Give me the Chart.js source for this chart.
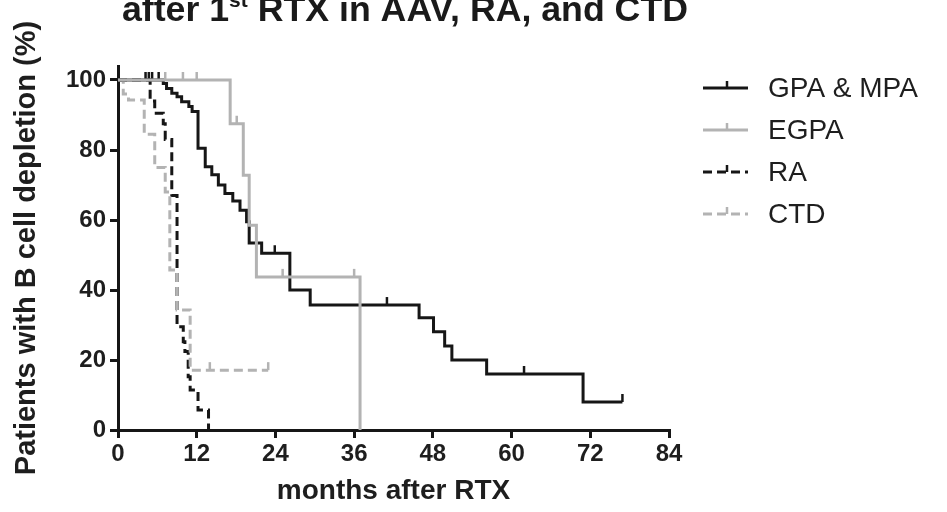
<!DOCTYPE html>
<html>
<head>
<meta charset="utf-8">
<title>B cell depletion after 1st RTX</title>
<script src="https://cdn.jsdelivr.net/npm/chart.js@4.4.1/dist/chart.umd.min.js"></script>
<style>
  html, body { margin: 0; padding: 0; background: #fff; }
  #wrap { width: 947px; height: 512px; }
</style>
</head>
<body>
<div id="wrap"><canvas id="kmChart" width="947" height="512"></canvas></div>
<script>
// Kaplan-Meier steps: month of each drop and % still depleted after it
const gpaTimes = [0, 6.9, 7.4, 8.2, 9.0, 9.7, 10.8, 11.3, 12.2, 13.3, 14.3, 15.3, 16.3, 17.5, 18.6, 19.6, 20.0, 21.9, 26.2, 29.3, 45.9, 48.1, 49.8, 50.9, 56.2, 70.9, 76.9];
const gpaSurv  = [100, 99, 97.6, 96.2, 95.2, 93.8, 92.4, 91, 80.5, 75.2, 72.9, 70, 67.6, 65.4, 62.8, 59.5, 53.4, 50.5, 40, 35.7, 32.1, 28.1, 24, 20, 16, 8, 8];
const gpaCensor = [4.2, 5.2, 6.2, 23.9, 41.0, 61.9, 76.9];

const egpaTimes = [0, 17.1, 19.1, 20.0, 21.1, 36.9];
const egpaSurv  = [100, 87.5, 72.8, 58.5, 43.75, 0];
const egpaCensor = [7.2, 9.9, 12.0, 18.1, 25.1, 36.0];

const raTimes = [0, 4.9, 5.6, 6.9, 7.2, 8.2, 9.0, 9.95, 10.2, 10.7, 11.0, 12.2, 13.8];
const raSurv  = [100, 94, 90.5, 87.5, 83, 67, 29.5, 25.2, 22.4, 15.2, 11.4, 5.7, 0];
const raCensor = [4.7];

const ctdTimes = [0, 0.8, 1.6, 4.0, 5.6, 7.2, 7.9, 9.0, 11.0, 22.9];
const ctdSurv  = [100, 96, 94.3, 84.5, 75, 68, 45.7, 34.3, 17.1, 17.1];
const ctdCensor = [14.0, 22.9];

const groupNames = ['GPA & MPA', 'EGPA', 'RA', 'CTD'];
const xTicks = [0, 12, 24, 36, 48, 60, 72, 84];
const yTicks = [0, 20, 40, 60, 80, 100];

const BLACK = '#161616';
const GREY = '#b3b3b3';
const DASH = [9, 5];
const FONT = "'Liberation Sans', Arial, Helvetica, sans-serif";

function toPoints(times, surv) {
  return times.map((t, i) => ({ x: t, y: surv[i] }));
}

function survAt(times, surv, t) {
  let v = surv[0];
  for (let i = 0; i < times.length; i++) {
    if (times[i] <= t) v = surv[i];
  }
  return v;
}

function censorPoints(times, surv, cens) {
  return cens.map(t => ({ x: t, y: survAt(times, surv, t) }));
}

function curve(label, times, surv, color, dash, order) {
  return {
    label: label,
    data: toPoints(times, surv),
    stepped: 'before',
    borderColor: color,
    borderWidth: 3,
    borderDash: dash,
    borderCapStyle: 'butt',
    pointRadius: 0,
    fill: false,
    clip: 4,
    order: order
  };
}

function ticks(label, times, surv, cens, color, order) {
  return {
    label: label + ' censored',
    data: censorPoints(times, surv, cens),
    showLine: false,
    pointStyle: 'dash',
    rotation: -90,
    pointRadius: 8,
    pointBorderWidth: 2.5,
    pointBorderColor: color,
    borderColor: color,
    clip: false,
    order: order
  };
}

const groupStyles = [
  { color: BLACK, dash: [] },
  { color: GREY, dash: [] },
  { color: BLACK, dash: DASH },
  { color: GREY, dash: DASH }
];

// title line (top of it is cut off in the original)
const titlePlugin = {
  id: 'topTitle',
  afterDraw(chart) {
    const ctx = chart.ctx;
    const left = 122, right = 688, base = 21;
    const partA = 'after 1', sup = 'st', partB = ' RTX in AAV, RA, and CTD';
    let size = 34;
    const measure = () => {
      ctx.font = 'bold ' + size + 'px ' + FONT;
      const a = ctx.measureText(partA).width + ctx.measureText(partB).width;
      ctx.font = 'bold ' + Math.round(size * 0.6) + 'px ' + FONT;
      return a + ctx.measureText(sup).width;
    };
    size = size * (right - left) / measure();
    ctx.save();
    ctx.fillStyle = '#1a1a1a';
    ctx.textBaseline = 'alphabetic';
    ctx.textAlign = 'left';
    let x = left;
    ctx.font = 'bold ' + size + 'px ' + FONT;
    ctx.fillText(partA, x, base);
    x += ctx.measureText(partA).width;
    ctx.font = 'bold ' + Math.round(size * 0.6) + 'px ' + FONT;
    ctx.fillText(sup, x, base - size * 0.38);
    x += ctx.measureText(sup).width;
    ctx.font = 'bold ' + size + 'px ' + FONT;
    ctx.fillText(partB, x, base);
    ctx.restore();
  }
};

// legend on the right: line sample with a censor tick, then the name
const legendPlugin = {
  id: 'kmLegend',
  afterDraw(chart) {
    const ctx = chart.ctx;
    ctx.save();
    groupNames.forEach((name, i) => {
      const y = 88 + i * 42;
      const st = groupStyles[i];
      ctx.strokeStyle = st.color;
      ctx.lineWidth = 3;
      ctx.setLineDash(st.dash);
      ctx.beginPath();
      ctx.moveTo(703, y);
      ctx.lineTo(748, y);
      ctx.stroke();
      ctx.setLineDash([]);
      ctx.lineWidth = 2.5;
      ctx.beginPath();
      ctx.moveTo(727, y);
      ctx.lineTo(727, y - 7);
      ctx.stroke();
      ctx.fillStyle = '#1e1e1e';
      ctx.font = '28px ' + FONT;
      ctx.textBaseline = 'middle';
      ctx.fillText(name, 768, y + 1);
    });
    ctx.restore();
  }
};

const ctx = document.getElementById('kmChart').getContext('2d');
new Chart(ctx, {
  type: 'line',
  data: {
    datasets: [
      curve(groupNames[0], gpaTimes, gpaSurv, BLACK, [], 3),
      curve(groupNames[1], egpaTimes, egpaSurv, GREY, [], 1),
      curve(groupNames[2], raTimes, raSurv, BLACK, DASH, 5),
      curve(groupNames[3], ctdTimes, ctdSurv, GREY, DASH, 4),
      ticks(groupNames[0], gpaTimes, gpaSurv, gpaCensor, BLACK, 2),
      ticks(groupNames[1], egpaTimes, egpaSurv, egpaCensor, GREY, 0),
      ticks(groupNames[2], raTimes, raSurv, raCensor, BLACK, 2),
      ticks(groupNames[3], ctdTimes, ctdSurv, ctdCensor, GREY, 2)
    ]
  },
  options: {
    responsive: false,
    animation: false,
    events: [],
    layout: { padding: { top: 66, right: 278, left: 0, bottom: 0 } },
    plugins: {
      legend: { display: false },
      tooltip: { enabled: false },
      title: { display: false }
    },
    scales: {
      x: {
        type: 'linear',
        min: 0,
        max: 84,
        afterBuildTicks: s => { s.ticks = xTicks.map(v => ({ value: v })); },
        afterFit: s => { s.height = 82; },
        border: { display: true, color: BLACK, width: 3 },
        grid: { display: true, drawOnChartArea: false, drawTicks: true, tickLength: 8, color: BLACK, lineWidth: 3 },
        ticks: { color: '#1e1e1e', padding: 2, maxRotation: 0, font: { family: FONT, size: 24, weight: 'bold' } },
        title: {
          display: true,
          text: 'months after RTX',
          color: '#1e1e1e',
          padding: { top: 0, bottom: 4 },
          font: { family: FONT, size: 28, weight: 'bold' }
        }
      },
      y: {
        min: 0,
        max: 104,
        afterBuildTicks: s => { s.ticks = yTicks.map(v => ({ value: v })); },
        afterFit: s => { s.width = 118; },
        border: { display: true, color: BLACK, width: 3 },
        grid: { display: true, drawOnChartArea: false, drawTicks: true, tickLength: 8, color: BLACK, lineWidth: 3 },
        ticks: { color: '#1e1e1e', padding: 4, font: { family: FONT, size: 24, weight: 'bold' } },
        title: {
          display: true,
          text: 'Patients with B cell depletion (%)',
          color: '#1e1e1e',
          padding: { top: 10, bottom: 0 },
          font: { family: FONT, size: 29, weight: 'bold' }
        }
      }
    }
  },
  plugins: [titlePlugin, legendPlugin]
});
</script>
</body>
</html>
